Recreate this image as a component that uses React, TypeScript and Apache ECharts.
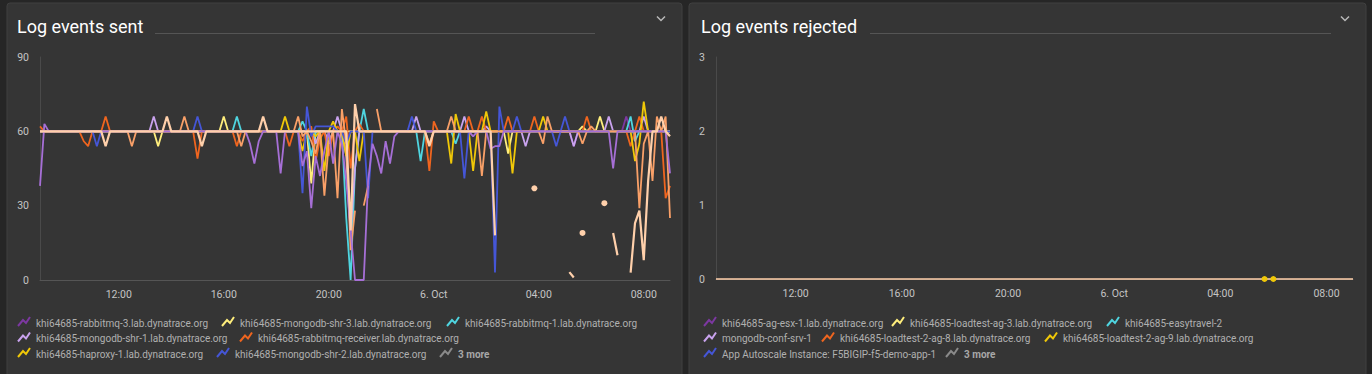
import React, { useEffect, useRef } from "react";
import * as echarts from "echarts";

const _ = null;

// time grid: 10-minute samples from 5 Oct 09:00 (hour 9) to 6 Oct 09:00 (hour 33)
const START_HOUR = 9;
const STEP_MIN = 10;
const X_TICKS = [12, 16, 20, 24, 28, 32];
const SENT_Y_MAX = 90;
const SENT_Y_STEP = 30;
const REJ_Y_MAX = 3;
const REJ_Y_STEP = 1;

const titles = ["Log events sent", "Log events rejected"];
const moreLabel = "3 more";

const sentNames = [
  "khi64685-rabbitmq-3.lab.dynatrace.org",
  "khi64685-mongodb-shr-3.lab.dynatrace.org",
  "khi64685-rabbitmq-1.lab.dynatrace.org",
  "khi64685-mongodb-shr-1.lab.dynatrace.org",
  "khi64685-rabbitmq-receiver.lab.dynatrace.org",
  "khi64685-haproxy-1.lab.dynatrace.org",
  "khi64685-mongodb-shr-2.lab.dynatrace.org",
];
const rejectedNames = [
  "khi64685-ag-esx-1.lab.dynatrace.org",
  "khi64685-loadtest-ag-3.lab.dynatrace.org",
  "khi64685-easytravel-2",
  "mongodb-conf-srv-1",
  "khi64685-loadtest-2-ag-8.lab.dynatrace.org",
  "khi64685-loadtest-2-ag-9.lab.dynatrace.org",
  "App Autoscale Instance: F5BIGIP-f5-demo-app-1",
];

const palette = {
  purple: "#7c38a1",
  lightYellow: "#ffee7c",
  cyan: "#4fd5e0",
  lavender: "#c9a3ee",
  orange: "#ef651f",
  gold: "#f0c808",
  blue: "#4556d7",
  lightOrange: "#f9a068",
  midPurple: "#a66fd6",
  peach: "#ffd0ab",
  more: "#8a8a8a",
};
const legendColors = [
  palette.purple,
  palette.lightYellow,
  palette.cyan,
  palette.lavender,
  palette.orange,
  palette.gold,
  palette.blue,
];

// ---- Log events sent (one value per 10 minutes, 145 samples) ----
const sentRabbitmq3 = [
  60,60,60,60,60,60,60,60,60,60,60,60,
  60,60,60,60,60,60,60,60,60,60,60,60,
  60,60,60,60,60,60,60,60,60,60,60,60,
  60,60,60,60,60,60,60,60,60,60,60,60,
  60,60,60,60,60,60,60,60,60,60,60,60,
  60,60,60,60,60,60,60,60,60,60,60,60,
  60,60,60,60,60,60,60,60,60,60,60,60,
  60,60,60,60,60,60,60,60,60,60,60,60,
  60,60,60,60,60,60,60,60,60,60,60,60,
  60,60,60,60,60,60,60,60,60,60,60,60,
  60,60,54,60,60,60,60,60,60,60,60,60,
  60,60,66,60,60,60,60,60,60,60,60,60,
  60,
];
const sentMongoShr3 = [
  60,60,60,60,60,60,60,60,60,60,60,60,
  60,60,60,60,60,60,60,60,60,60,60,60,
  60,60,60,54,60,60,60,60,60,60,60,60,
  60,60,60,60,60,60,66,60,60,60,60,60,
  60,60,60,60,60,60,60,60,60,60,60,60,
  60,60,39,60,60,60,60,60,60,60,60,60,
  60,60,60,60,60,60,60,60,60,60,60,60,
  60,60,60,60,60,60,60,60,60,60,60,60,
  60,60,60,60,60,60,60,60,60,60,60,51,
  60,60,60,60,60,60,60,60,60,60,60,60,
  60,60,60,60,62,60,60,60,66,60,60,60,
  60,60,60,60,60,60,60,60,60,60,60,60,
  60,
];
const sentRabbitmq1 = [
  60,60,60,60,60,60,60,60,60,60,60,60,
  60,60,60,60,60,60,60,60,60,60,60,60,
  60,60,60,60,60,60,60,60,60,60,60,60,
  60,60,60,60,60,60,60,60,60,66,60,60,
  60,60,60,60,60,60,60,60,60,60,60,60,
  64,60,50,60,60,60,55,60,60,60,25,0,
  45,60,69,60,60,60,60,60,60,60,60,60,
  60,60,60,48,60,60,60,60,60,60,60,55,
  60,60,60,60,60,60,60,60,60,60,60,60,
  60,60,60,60,60,60,60,60,60,60,60,60,
  60,60,60,60,60,60,60,60,60,60,60,60,
  60,60,60,66,56,60,60,60,60,60,60,60,
  60,
];
const sentMongoShr1 = [
  60,60,60,60,60,60,60,60,60,60,60,60,
  60,60,60,60,60,60,60,60,60,60,60,60,
  60,60,66,60,60,60,60,60,60,60,60,60,
  60,60,60,60,60,60,60,60,60,60,60,60,
  60,60,60,60,60,60,60,60,60,60,60,60,
  60,60,60,55,60,60,55,60,66,60,50,19,
  45,60,60,60,60,60,60,60,60,60,60,60,
  60,60,66,60,60,60,60,60,60,60,60,60,
  60,66,60,60,60,60,62,60,60,60,60,60,
  60,60,60,54,60,60,60,60,60,60,60,60,
  60,60,54,60,60,60,60,60,60,60,66,60,
  60,60,60,60,60,60,66,60,60,60,60,60,
  60,
];
const sentRabbitmqReceiver = [
  62,60,60,60,60,60,60,60,60,60,56,54,
  60,60,60,66,60,60,60,60,60,60,60,60,
  60,60,60,60,60,60,60,60,60,60,60,60,
  49,60,60,60,60,60,60,60,60,54,60,60,
  60,60,60,60,60,60,60,60,60,54,60,60,
  56,60,62,48,57,60,50,60,62,60,66,45,
  60,63,60,60,60,60,60,60,60,60,60,60,
  60,60,60,60,60,44,64,60,60,60,60,60,
  60,60,66,60,60,66,60,60,60,60,60,66,
  60,60,60,60,60,66,60,60,60,60,60,60,
  60,60,60,60,60,66,60,60,60,60,60,60,
  60,60,60,54,60,66,60,60,60,60,60,33,
  38,
];
const sentHaproxy1 = [
  60,60,60,60,60,60,60,60,60,60,60,60,
  60,60,60,60,60,60,60,60,60,60,60,60,
  60,60,60,60,60,60,60,60,60,60,60,60,
  60,60,60,60,60,60,60,60,60,60,60,60,
  60,60,60,60,60,60,60,60,66,60,60,60,
  52,60,60,58,60,44,60,64,60,60,50,60,
  60,48,60,60,60,60,60,60,60,60,60,60,
  60,60,60,60,60,60,60,60,60,60,47,67,
  60,60,60,44,60,60,68,60,60,60,60,60,
  43,60,60,60,60,60,60,66,60,60,60,60,
  60,60,60,60,60,60,60,60,60,60,60,60,
  60,60,60,60,48,55,72,60,60,60,60,60,
  60,
];
const sentMongoShr2 = [
  60,60,60,60,60,60,60,60,60,60,60,60,
  60,54,60,60,60,60,60,60,60,60,60,60,
  60,60,60,60,60,60,60,60,60,60,60,60,
  66,60,60,60,60,60,60,60,60,60,60,60,
  60,60,60,60,60,60,60,60,60,60,60,60,
  35,70,58,62,62,62,62,62,60,60,55,60,
  60,60,60,33,60,60,60,60,60,60,60,60,
  60,66,60,60,60,60,60,60,60,60,60,60,
  60,41,60,60,60,60,60,60,3,70,60,60,
  60,66,60,60,60,60,60,60,60,60,54,60,
  66,60,60,60,60,60,60,60,60,60,60,60,
  60,60,60,60,60,60,60,60,60,60,60,60,
  60,
];
// the three series folded into "3 more"
const sentMoreOrange = [
  60,60,60,60,60,60,60,60,60,60,60,60,
  60,60,60,60,60,60,60,60,60,54,60,60,
  60,60,60,60,60,60,60,60,60,66,60,60,
  60,60,60,60,60,60,60,60,60,60,54,60,
  60,60,60,60,60,60,60,60,60,60,60,66,
  58,60,56,51,60,34,55,60,33,69,55,12,
  28,_,30,38,_,69,60,60,60,60,60,60,
  60,60,60,60,60,55,60,60,60,60,66,60,
  60,60,60,60,60,42,60,60,60,60,60,60,
  60,60,60,60,60,60,60,55,66,60,60,60,
  60,60,60,60,55,60,62,60,60,60,60,60,
  60,60,60,60,60,29,55,60,40,66,60,66,
  25,
];
const sentMorePurple = [
  38,63,60,60,60,60,60,60,60,60,60,60,
  60,60,60,60,60,60,60,60,60,60,60,60,
  60,60,60,60,60,60,60,60,60,60,60,60,
  60,60,60,60,60,60,60,60,60,60,60,60,
  55,47,56,60,60,60,60,43,60,60,60,60,
  46,52,29,50,42,52,60,47,60,55,40,20,
  0,0,0,40,55,50,43,56,47,58,60,60,
  60,60,60,60,60,60,60,60,60,60,60,60,
  60,60,60,58,60,60,60,53,54,54,60,60,
  60,60,60,60,60,60,60,60,60,60,60,60,
  60,60,60,60,60,60,60,60,60,60,60,45,
  60,60,60,60,60,60,60,60,60,60,60,60,
  43,
];
const sentMorePeach = [
  60,60,60,60,60,60,60,60,60,60,60,60,
  60,60,60,54,60,60,60,60,60,60,60,60,
  60,60,60,60,60,66,60,60,60,60,60,60,
  60,54,60,60,60,60,60,60,60,60,60,60,
  60,60,60,66,60,60,60,60,60,60,60,60,
  60,60,60,60,60,60,60,60,60,60,60,20,
  71,60,60,60,60,60,60,60,60,60,60,60,
  60,60,60,60,60,54,60,60,60,60,60,60,
  60,60,60,60,60,60,60,60,18,_,_,_,
  _,_,_,_,_,37,_,_,_,_,_,_,
  _,3.2,1,_,19,_,_,_,_,31,_,19,
  10,_,_,3,23,28,8,40,60,60,66,60,
  58,
];

// ---- Log events rejected ----
const rejectedMorePeach = [
  0,0,0,0,0,0,0,0,0,0,0,0,
  0,0,0,0,0,0,0,0,0,0,0,0,
  0,0,0,0,0,0,0,0,0,0,0,0,
  0,0,0,0,0,0,0,0,0,0,0,0,
  0,0,0,0,0,0,0,0,0,0,0,0,
  0,0,0,0,0,0,0,0,0,0,0,0,
  0,0,0,0,0,0,0,0,0,0,0,0,
  0,0,0,0,0,0,0,0,0,0,0,0,
  0,0,0,0,0,0,0,0,0,0,0,0,
  0,0,0,0,0,0,0,0,0,0,0,0,
  0,0,0,0,0,0,0,0,0,0,0,0,
  0,0,0,0,0,0,0,0,0,0,0,0,
  0,
];
const rejectedLoadtest2Ag9 = [
  _,_,_,_,_,_,_,_,_,_,_,_,
  _,_,_,_,_,_,_,_,_,_,_,_,
  _,_,_,_,_,_,_,_,_,_,_,_,
  _,_,_,_,_,_,_,_,_,_,_,_,
  _,_,_,_,_,_,_,_,_,_,_,_,
  _,_,_,_,_,_,_,_,_,_,_,_,
  _,_,_,_,_,_,_,_,_,_,_,_,
  _,_,_,_,_,_,_,_,_,_,_,_,
  _,_,_,_,_,_,_,_,_,_,_,_,
  _,_,_,_,_,_,_,_,_,_,_,_,
  _,_,_,_,0,_,0,_,_,_,_,_,
  _,_,_,_,_,_,_,_,_,_,_,_,
  _,
];

const sampleTimes = sentMorePeach.map((__, i) => START_HOUR + (i * STEP_MIN) / 60);

const toData = (arr: (number | null)[]) =>
  arr.map((v, i) => [sampleTimes[i], v === null ? "-" : v]);

const isIsolated = (arr: (number | null)[], i: number) =>
  arr[i] !== null &&
  (i === 0 || arr[i - 1] === null) &&
  (i === arr.length - 1 || arr[i + 1] === null);

const fmtTime = (v: number) =>
  v === 24 ? "6. Oct" : String(v % 24).padStart(2, "0") + ":00";

const FONT = "Roboto, 'Noto Sans', sans-serif";

function lineSeries(
  name: string,
  arr: (number | null)[],
  color: string,
  axis: number,
  dots = false,
  width = 1.8
) {
  return {
    type: "line",
    name,
    xAxisIndex: axis,
    yAxisIndex: axis,
    data: toData(arr),
    showSymbol: dots,
    symbol: "circle",
    symbolSize: dots ? (_v: any, p: any) => (isIsolated(arr, p.dataIndex) ? 6 : 0) : 4,
    itemStyle: { color },
    lineStyle: { color, width },
    silent: true,
    clip: false,
    connectNulls: false,
  };
}

// legend layout (positions of the icon for each legend entry)
const LEGEND_ROWS = [323, 338.5, 354];
const sentLegendSlots = [
  [18, 0], [222, 0], [447, 0], [18, 1], [240, 1], [18, 2], [217, 2],
];
const sentMoreSlot = [440, 2];
const rejLegendSlots = [
  [704, 0], [892, 0], [1107, 0], [704, 1], [822, 1], [1045, 1], [704, 2],
];
const rejMoreSlot = [946, 2];

function legendIcon(x: number, row: number, color: string) {
  const y = LEGEND_ROWS[row] - 6;
  return {
    type: "polyline",
    silent: true,
    z: 10,
    shape: {
      points: [
        [x, y + 9],
        [x + 5, y + 3],
        [x + 8, y + 6],
        [x + 12, y],
      ],
    },
    style: { stroke: color, lineWidth: 2, fill: null },
  };
}
function legendText(x: number, row: number, text: string, bold = false) {
  return {
    type: "text",
    silent: true,
    z: 10,
    x: x + 18,
    y: LEGEND_ROWS[row],
    style: {
      text,
      fill: bold ? "#a8a8a8" : "#b0b0b0",
      fontSize: 10,
      fontFamily: FONT,
      fontWeight: bold ? "bold" : "normal",
      verticalAlign: "middle",
      align: "left",
    },
  };
}

function buildGraphic() {
  const g: any[] = [];
  // panels
  g.push({
    type: "rect",
    z: -100,
    silent: true,
    shape: { x: 7, y: 3, width: 675, height: 380, r: 3 },
    style: { fill: "#353535", stroke: "#404040", lineWidth: 1 },
  });
  g.push({
    type: "rect",
    z: -100,
    silent: true,
    shape: { x: 689, y: 3, width: 677, height: 380, r: 3 },
    style: { fill: "#353535", stroke: "#404040", lineWidth: 1 },
  });
  // titles, underline rules and collapse chevrons
  [
    [17, titles[0], 155, 595, 661],
    [701, titles[1], 870, 1331, 1345],
  ].forEach(([x, t, l1, l2, cx]: any) => {
    g.push({
      type: "text",
      silent: true,
      x,
      y: 26,
      style: {
        text: t,
        fill: "#ffffff",
        fontSize: 18,
        fontFamily: FONT,
        verticalAlign: "middle",
      },
    });
    g.push({
      type: "line",
      silent: true,
      shape: { x1: l1, y1: 33.5, x2: l2, y2: 33.5 },
      style: { stroke: "#555555", lineWidth: 1 },
    });
    g.push({
      type: "polyline",
      silent: true,
      shape: { points: [[cx - 4, 16.5], [cx, 20.5], [cx + 4, 16.5]] },
      style: { stroke: "#b8b8b8", lineWidth: 1.5, fill: null },
    });
  });
  sentNames.forEach((n, i) => {
    const [x, r] = sentLegendSlots[i];
    g.push(legendIcon(x, r, legendColors[i]));
    g.push(legendText(x, r, n));
  });
  g.push(legendIcon(sentMoreSlot[0], sentMoreSlot[1], palette.more));
  g.push(legendText(sentMoreSlot[0], sentMoreSlot[1], moreLabel, true));
  rejectedNames.forEach((n, i) => {
    const [x, r] = rejLegendSlots[i];
    g.push(legendIcon(x, r, legendColors[i]));
    g.push(legendText(x, r, n));
  });
  g.push(legendIcon(rejMoreSlot[0], rejMoreSlot[1], palette.more));
  g.push(legendText(rejMoreSlot[0], rejMoreSlot[1], moreLabel, true));
  return g;
}

function xAxis(gridIndex: number) {
  return {
    gridIndex,
    type: "value",
    min: START_HOUR,
    max: START_HOUR + 24,
    axisLine: { show: true, lineStyle: { color: "#555555", width: 1 } },
    axisTick: { show: false },
    splitLine: { show: false },
    axisLabel: {
      customValues: X_TICKS,
      formatter: (v: number) => fmtTime(v),
      color: "#c4c4c4",
      fontSize: 10.5,
      fontFamily: FONT,
      margin: 9,
    },
  };
}
function yAxis(gridIndex: number, max: number, interval: number) {
  return {
    gridIndex,
    type: "value",
    min: 0,
    max,
    interval,
    axisLine: { show: true, lineStyle: { color: "#4a4a4a", width: 1 } },
    axisTick: { show: false },
    splitLine: { show: false },
    axisLabel: {
      color: "#c4c4c4",
      fontSize: 10.5,
      fontFamily: FONT,
      margin: 11,
    },
  };
}

const option: any = {
  animation: false,
  backgroundColor: "#262626",
  graphic: buildGraphic(),
  grid: [
    { left: 40, top: 57, width: 630, height: 223 },
    { left: 716, top: 57, width: 637, height: 222 },
  ],
  xAxis: [xAxis(0), xAxis(1)],
  yAxis: [yAxis(0, SENT_Y_MAX, SENT_Y_STEP), yAxis(1, REJ_Y_MAX, REJ_Y_STEP)],
  series: [
    lineSeries(sentNames[0], sentRabbitmq3, palette.purple, 0),
    lineSeries(sentNames[1], sentMongoShr3, palette.lightYellow, 0),
    lineSeries(sentNames[2], sentRabbitmq1, palette.cyan, 0),
    lineSeries(sentNames[3], sentMongoShr1, palette.lavender, 0),
    lineSeries(sentNames[4], sentRabbitmqReceiver, palette.orange, 0),
    lineSeries(sentNames[5], sentHaproxy1, palette.gold, 0),
    lineSeries(sentNames[6], sentMongoShr2, palette.blue, 0),
    lineSeries("more (orange)", sentMoreOrange, palette.lightOrange, 0),
    lineSeries("more (purple)", sentMorePurple, palette.midPurple, 0),
    lineSeries("more (peach)", sentMorePeach, palette.peach, 0, true, 2.2),
    lineSeries("more (peach) rejected", rejectedMorePeach, palette.peach, 1, false, 1.4),
    lineSeries(rejectedNames[5], rejectedLoadtest2Ag9, palette.gold, 1, true),
  ],
};

export default function App() {
  const ref = useRef<HTMLDivElement>(null);
  useEffect(() => {
    document.body.style.margin = "0";
    const chart = echarts.init(ref.current!, null, { renderer: "svg" });
    chart.setOption(option);
    return () => chart.dispose();
  }, []);
  return <div ref={ref} style={{ width: 1372, height: 374 }} />;
}
